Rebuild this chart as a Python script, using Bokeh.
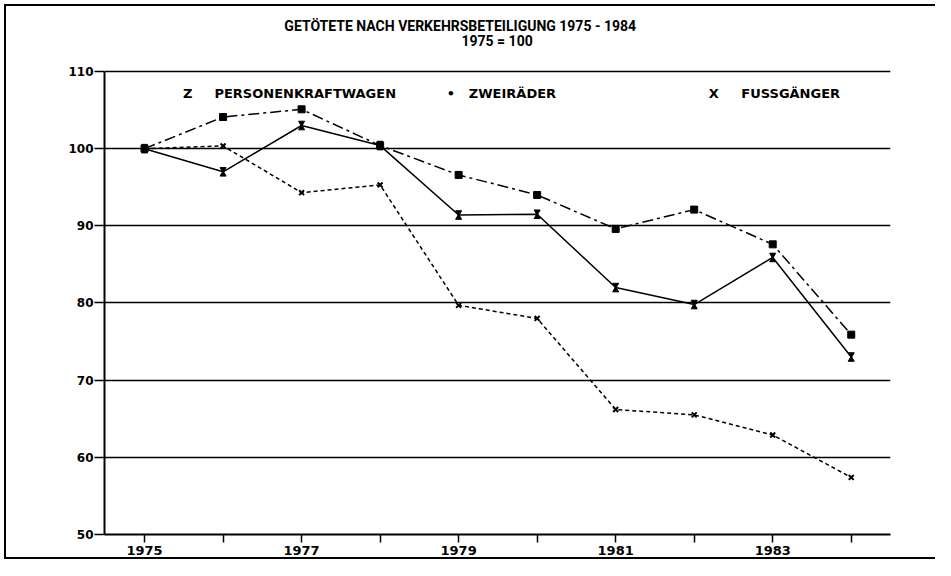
from bokeh.plotting import figure
from bokeh.models import Range1d, FixedTicker
from bokeh.core.properties import value
from bokeh.embed import file_html
from bokeh.resources import INLINE

years = [1975, 1976, 1977, 1978, 1979, 1980, 1981, 1982, 1983, 1984]
pkw = [100, 97.0, 103.0, 100.4, 91.4, 91.5, 82.0, 79.8, 85.9, 73.0]
zweiraeder = [100, 104.1, 105.1, 100.4, 96.6, 94.0, 89.6, 92.1, 87.6, 75.9]
fussgaenger = [100, 100.35, 94.3, 95.3, 79.7, 78.0, 66.2, 65.5, 62.9, 57.4]

x_label_years = [1975, 1977, 1979, 1981, 1983]
x_minor_years = [1976, 1978, 1980, 1982, 1984]
y_ticks = [50, 60, 70, 80, 90, 100, 110]
grid_values = [60, 70, 80, 90, 100, 110]

title_lines = ["GETÖTETE NACH VERKEHRSBETEILIGUNG 1975 - 1984", "1975 = 100"]
legend_names = ["PERSONENKRAFTWAGEN", "ZWEIRÄDER", "FUSSGÄNGER"]
legend_symbols = ["Z", "•", "X"]

FONT = "DejaVu Sans"
TFONT = "Roboto"

X0, X1 = 1974.49, 1984.5
Y0, Y1, YTOP = 50, 110, 119.2

W, H = 935, 560
p = figure(width=W, height=H, output_backend="svg", toolbar_location=None,
           x_range=Range1d(X0, X1), y_range=Range1d(Y0, YTOP),
           min_border_left=104, min_border_right=45, min_border_top=0, min_border_bottom=26)
p.background_fill_color = None
p.border_fill_color = None
p.outline_line_color = None
p.styles = {
    "background-color": "white",
    "background-image": "linear-gradient(black, black), linear-gradient(black, black), linear-gradient(black, black)",
    "background-size": "2px 555px, 1200px 2px, 1200px 2px",
    "background-position": "left 4px top 4px, left 4px top 4px, left 4px top 557px",
    "background-repeat": "no-repeat, no-repeat, no-repeat",
}

# axes
p.xaxis.ticker = FixedTicker(ticks=x_label_years, minor_ticks=x_minor_years)
p.xaxis.major_label_text_font = FONT
p.xaxis.major_label_text_font_style = "bold"
p.xaxis.major_label_text_font_size = "13px"
p.xaxis.major_label_text_color = "black"
p.xaxis.major_label_standoff = 3
p.xaxis.major_tick_in = 0
p.xaxis.major_tick_out = 8
p.xaxis.minor_tick_in = 0
p.xaxis.minor_tick_out = 8
p.xaxis.major_tick_line_width = 1.5
p.xaxis.minor_tick_line_width = 1.5
p.xaxis.major_tick_line_color = "black"
p.xaxis.minor_tick_line_color = "black"
p.xaxis.axis_line_width = 2
p.xaxis.axis_line_color = "black"

p.yaxis.ticker = FixedTicker(ticks=y_ticks)
p.yaxis.bounds = (Y0, Y1)
p.yaxis.major_label_text_font = FONT
p.yaxis.major_label_text_font_style = "bold"
p.yaxis.major_label_text_font_size = "12px"
p.yaxis.major_label_text_color = "black"
p.yaxis.major_label_standoff = 1
p.yaxis.major_tick_in = 0
p.yaxis.major_tick_out = 10
p.yaxis.minor_tick_line_color = None
p.yaxis.major_tick_line_width = 1.5
p.yaxis.major_tick_line_color = "black"
p.yaxis.axis_line_width = 2
p.yaxis.axis_line_color = "black"

# horizontal grid (top one closes the box) and right edge of the box
p.ygrid.ticker = FixedTicker(ticks=grid_values)
p.ygrid.grid_line_color = "black"
p.ygrid.grid_line_width = 1.5
p.xgrid.ticker = FixedTicker(ticks=[X1])
p.xgrid.bounds = (Y0, Y1)
p.xgrid.grid_line_color = "black"
p.xgrid.grid_line_width = 2

# series
p.line(years, pkw, line_color="black", line_width=1.5)
off = 0.33
p.scatter(years, [v + off for v in pkw], marker="inverted_triangle", size=6,
          fill_color="black", line_color="black")
p.scatter(years, [v - off for v in pkw], marker="triangle", size=6,
          fill_color="black", line_color="black")

p.line(years, zweiraeder, line_color="black", line_width=1.5, line_dash="11 4 3 4")
p.scatter(years, zweiraeder, marker="square", size=7, fill_color="black", line_color="black")

p.line(years, fussgaenger, line_color="black", line_width=1.5, line_dash="4 3")
p.scatter(years, fussgaenger, marker="x", size=7, line_color="black", line_width=2)

# title (two lines)
p.text(x=[1979.02, 1979.49], y=[115.95, 113.95], text=title_lines, text_font=value(TFONT),
       text_font_style="bold", text_font_size="14px", text_align="center",
       text_baseline="middle", text_color="black")

# legend (as text inside the plot)
sym_x = [1975.55, 1978.9, 1982.25]
name_x = [1975.89, 1979.13, 1982.6]
leg_y = [107.11, 107.11, 107.11]
p.text(x=sym_x, y=leg_y, text=legend_symbols, text_font=value(FONT), text_font_style="bold",
       text_font_size="13px", text_align="center", text_baseline="middle", text_color="black")
p.text(x=name_x, y=leg_y, text=legend_names, text_font=value(FONT), text_font_style="bold",
       text_font_size="13px", text_align="left", text_baseline="middle", text_color="black")

open("out.html", "w").write(file_html(p, INLINE))
